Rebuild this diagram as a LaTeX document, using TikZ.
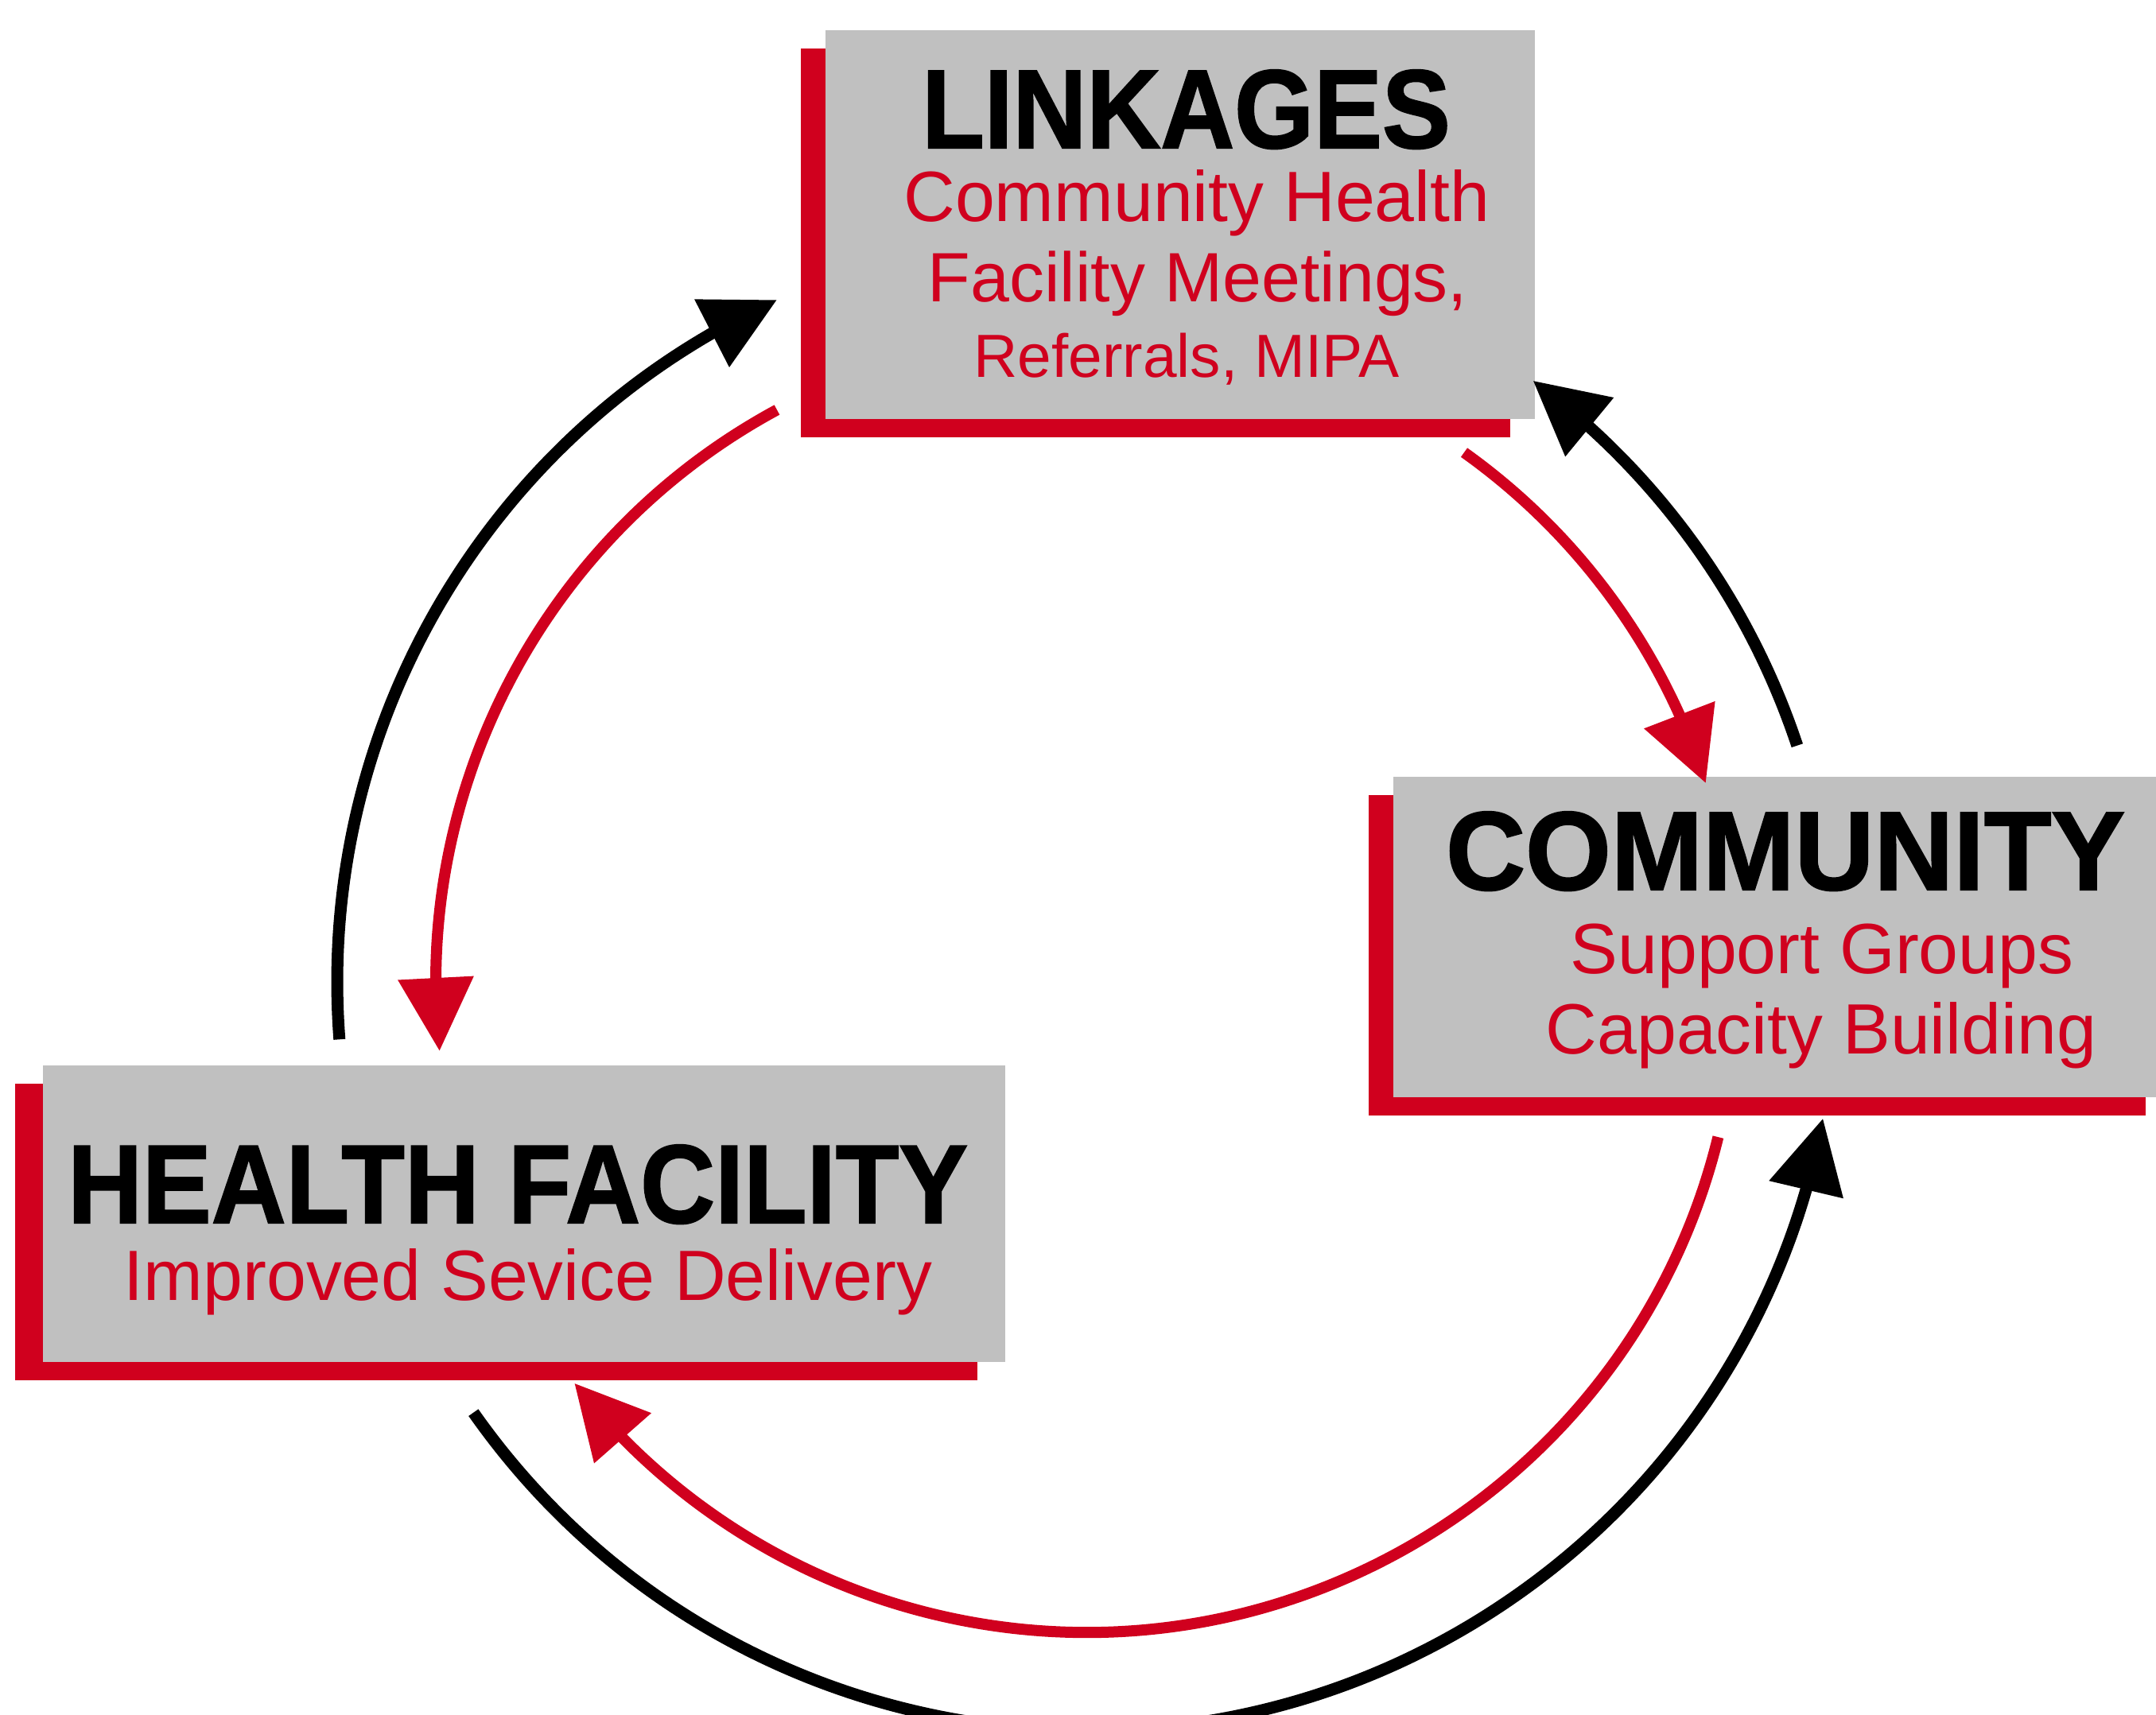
\documentclass[tikz,border=0pt]{standalone}
\usepackage{fontspec}
\setmainfont{Liberation Sans}
\newfontfamily\headfont[FakeBold=1.5]{Liberation Sans}
\usepackage{graphicx}
\usepackage{tikz}
\usetikzlibrary{calc, shadows}
\usetikzlibrary{arrows.meta, bending}
\tikzset{>={Triangle[width=9.2mm,length=9.2mm]}}
\definecolor{boxred}{RGB}{208,0,30}
\definecolor{boxgray}{RGB}{192,192,192}

\begin{document}
\begin{tikzpicture}[
    box/.style = {fill=boxgray, inner sep=0pt, outer sep=0pt,
        general shadow={fill=boxred, shadow xshift=#1, shadow yshift=-2.3mm}},
    box/.default = -3.1mm,
    head/.style = {anchor=base, inner sep=0pt, font=\fontsize{40}{48}\headfont\bfseries},
    sub/.style = {anchor=base, inner sep=0pt, text=boxred, font=\fontsize{25.5}{30}\selectfont},
    blk/.style = {->, line width=1.5mm, black},
    rd/.style = {->, line width=1.4mm, boxred}
  ]
  \useasboundingbox (0,0) rectangle (27.11,-21.56);
  \clip (0,0) rectangle (27.11,-21.56);

  % the three boxes
  \node[box, minimum width=8.92cm, minimum height=4.89cm] (lk) at (14.84,-2.825) {};
  \node[box, minimum width=9.77cm, minimum height=4.03cm] (cm) at (22.405,-11.785) {};
  \node[box=-3.5mm, minimum width=12.10cm, minimum height=3.73cm] (hf) at (6.59,-15.265) {};

  \node[head] (lk-t) at (14.915,-1.86) {\scalebox{.915}[1]{LINKAGES}};
  \node[sub] (lk-1) at (15.05,-2.78) {Community Health};
  \node[sub, font=\fontsize{25}{30}\selectfont] (lk-2) at (15.06,-3.79) {Facility Meetings,};
  \node[sub, font=\fontsize{21.8}{26}\selectfont] (lk-3) at (14.92,-4.74) {Referrals, MIPA};

  \node[head] (cm-t) at (22.45,-11.19) {\scalebox{.985}[1]{COMMUNITY}};
  \node[sub] (cm-1) at (22.91,-12.24) {Support Groups};
  \node[sub] (cm-2) at (22.90,-13.25) {Capacity Building};

  \node[head] (hf-t) at (6.51,-15.38) {\scalebox{.925}[1]{HEALTH FACILITY}};
  \node[sub] (hf-1) at (6.64,-16.35) {Improved Sevice Delivery};

  % cycle arrows round a common centre
  \coordinate (ctr) at (13.66,-12.35);
  \foreach \nm/\a/\b in {hf-lk/184.4/114.4, cm-lk/18.4/53.4, hf-cm/215.1/349.5}
  {
    \coordinate (\nm) at ($(ctr)+(\a:9.42)$);
    \draw[blk] (\nm) arc[start angle=\a, end angle=\b, radius=9.42];
  }
  \foreach \nm/\a/\b in {lk-hf/118.4/186.1, lk-cm/54.5/17.8, cm-hf/-13.8/-141.9}
  {
    \coordinate (\nm) at ($(ctr)+(\a:8.18)$);
    \draw[rd] (\nm) arc[start angle=\a, end angle=\b, radius=8.18];
  }
\end{tikzpicture}
\end{document}
